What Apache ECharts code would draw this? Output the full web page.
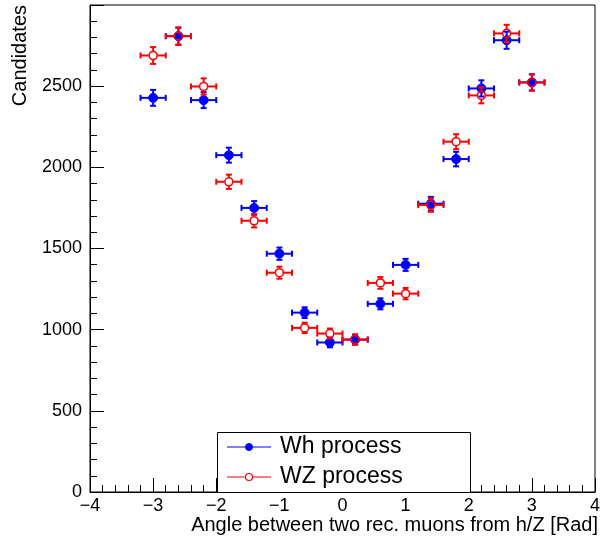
<!DOCTYPE html>
<html>
<head>
<meta charset="utf-8">
<script src="https://cdn.jsdelivr.net/npm/echarts@6/dist/echarts.min.js"></script>
<style>
html,body{margin:0;padding:0;background:#fff;}
#chart{width:603px;height:543px;}
</style>
</head>
<body>
<div id="chart"></div>
<script>
// ---- data ----
const binCenters = [-3.0,-2.6,-2.2,-1.8,-1.4,-1.0,-0.6,-0.2,0.2,0.6,1.0,1.4,1.8,2.2,2.6,3.0];
const binHalfWidth = [0.2,0.2,0.2,0.2,0.2,0.2,0.2,0.2,0.2,0.2,0.2,0.2,0.2,0.2,0.2,0.2];
const whCounts = [2428,2808,2414,2075,1750,1468,1105,921,939,1159,1399,1776,2051,2486,2783,2523];
const whErrors = [49,53,49,46,42,38,33,30,31,34,37,42,45,50,53,50];
const wzCounts = [2689,2808,2498,1911,1671,1351,1011,976,939,1288,1222,1768,2158,2443,2825,2523];
const wzErrors = [52,53,50,44,41,37,32,31,31,36,35,42,46,49,53,50];
const seriesNames = ['Wh process','WZ process'];
const xTitle = 'Angle between two rec. muons from h/Z [Rad]';
const yTitle = 'Candidates';

const FONT = '"Liberation Sans", Arial, Helvetica, sans-serif';

function buildData(counts, errs){
  return binCenters.map((x,i)=>[x, counts[i], binHalfWidth[i], errs[i]]);
}

function makeRender(color, filled){
  return function(params, api){
    const x = api.value(0), y = api.value(1), ex = api.value(2), ey = api.value(3);
    const c = api.coord([x,y]);
    const l = api.coord([x-ex,y]);
    const r = api.coord([x+ex,y]);
    const t = api.coord([x,y+ey]);
    const b = api.coord([x,y-ey]);
    const R = 4.5, cap = 3, lw = 2;
    const st = {stroke: color, lineWidth: lw};
    const children = [];
    const seg = (x1,y1,x2,y2)=>children.push({type:'line', shape:{x1,y1,x2,y2}, style:st});
    seg(l[0], c[1], c[0]-R, c[1]);
    seg(c[0]+R, c[1], r[0], c[1]);
    seg(l[0], c[1]-cap, l[0], c[1]+cap);
    seg(r[0], c[1]-cap, r[0], c[1]+cap);
    if (c[1]-R > t[1]) seg(c[0], t[1], c[0], c[1]-R);
    if (b[1] > c[1]+R) seg(c[0], c[1]+R, c[0], b[1]);
    seg(c[0]-cap, t[1], c[0]+cap, t[1]);
    seg(c[0]-cap, b[1], c[0]+cap, b[1]);
    children.push({type:'circle', shape:{cx:c[0], cy:c[1], r: filled ? R : R-0.5},
      style:{fill: filled ? color : 'none', stroke: color, lineWidth: filled ? 1 : 1.6}});
    return {type:'group', children};
  };
}

const chart = echarts.init(document.getElementById('chart'), null, {renderer:'canvas'});

const legendX1 = 227, legendX2 = 271, legendMX = 249, legendTX = 280;
const legendY = [447, 477];

chart.setOption({
  animation: false,
  backgroundColor: '#fff',
  grid: {left: 90, right: 5, top: 5, bottom: 51, show: true, borderColor: '#000', borderWidth: 1, backgroundColor: 'transparent'},
  xAxis: {
    type: 'value', min: -4, max: 4, interval: 1,
    axisLine: {show: true, onZero: false, lineStyle: {color: '#000', width: 1}},
    axisTick: {show: true, inside: true, length: 14, lineStyle: {color: '#000', width: 1}},
    minorTick: {show: true, splitNumber: 5, length: 7, lineStyle: {color: '#000', width: 1}},
    splitLine: {show: false},
    axisLabel: {color: '#000', fontSize: 18, fontFamily: FONT, margin: 5,
      formatter: v => String(v).replace('-', '\u2212')}
  },
  yAxis: {
    type: 'value', min: 0, max: 3000, interval: 500,
    axisLine: {show: true, onZero: false, lineStyle: {color: '#000', width: 1}},
    axisTick: {show: true, inside: true, length: 14, lineStyle: {color: '#000', width: 1}},
    minorTick: {show: true, splitNumber: 5, length: 7, lineStyle: {color: '#000', width: 1}},
    splitLine: {show: false},
    axisLabel: {color: '#000', fontSize: 18, fontFamily: FONT, margin: 8, showMaxLabel: false,
      formatter: v => String(v)}
  },
  series: [
    {name: seriesNames[0], type: 'custom', renderItem: makeRender('#0000ff', true),
      data: buildData(whCounts, whErrors), encode: {x: 0, y: 1}, z: 2},
    {name: seriesNames[1], type: 'custom', renderItem: makeRender('#ff0000', false),
      data: buildData(wzCounts, wzErrors), encode: {x: 0, y: 1}, z: 3}
  ],
  graphic: [
    {type: 'text', x: 598, y: 525, z: 10,
      style: {text: xTitle, fill: '#000', font: '20px ' + FONT, textAlign: 'right', textVerticalAlign: 'middle'}},
    {type: 'text', x: 20, y: 5, rotation: Math.PI/2, z: 10,
      style: {text: yTitle, fill: '#000', font: '20px ' + FONT, textAlign: 'right', textVerticalAlign: 'middle'}},
    {type: 'rect', shape: {x: 217.5, y: 432.5, width: 253, height: 60}, z: 20,
      style: {fill: '#fff', stroke: '#000', lineWidth: 1}},
    {type: 'line', shape: {x1: legendX1, y1: legendY[0], x2: legendX2, y2: legendY[0]}, z: 21,
      style: {stroke: '#0000ff', lineWidth: 1.2}},
    {type: 'circle', shape: {cx: legendMX, cy: legendY[0], r: 3.5}, z: 22,
      style: {fill: '#0000ff', stroke: '#0000ff'}},
    {type: 'text', x: legendTX, y: legendY[0], z: 22,
      style: {text: seriesNames[0], fill: '#000', font: '23px ' + FONT, textVerticalAlign: 'middle'}},
    {type: 'line', shape: {x1: legendX1, y1: legendY[1], x2: legendX2, y2: legendY[1]}, z: 21,
      style: {stroke: '#ff0000', lineWidth: 1.2}},
    {type: 'circle', shape: {cx: legendMX, cy: legendY[1], r: 3.5}, z: 22,
      style: {fill: '#fff', stroke: '#ff0000', lineWidth: 1.2}},
    {type: 'text', x: legendTX, y: legendY[1], z: 22,
      style: {text: seriesNames[1], fill: '#000', font: '23px ' + FONT, textVerticalAlign: 'middle'}}
  ]
});
</script>
</body>
</html>
